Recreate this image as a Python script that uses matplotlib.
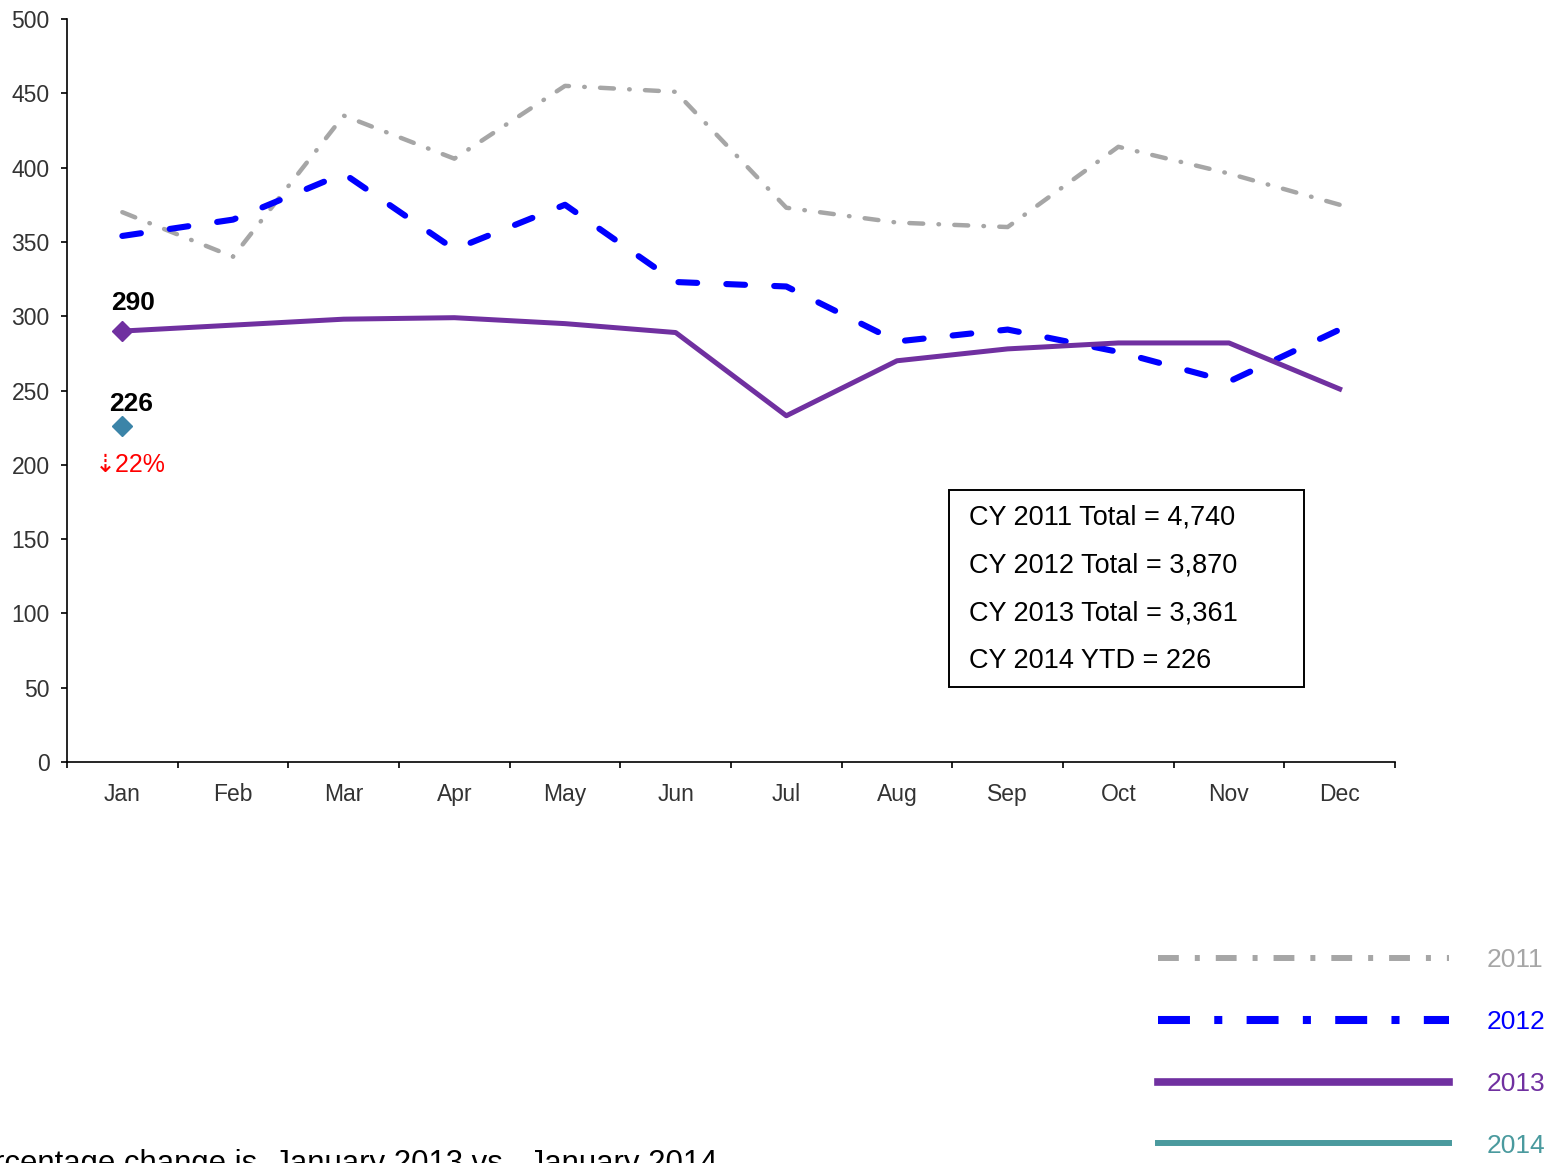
import matplotlib.pyplot as plt
from matplotlib.lines import Line2D
from matplotlib.patches import Rectangle

plt.rcParams['font.family'] = ['Liberation Sans', 'DejaVu Sans']
plt.rcParams['lines.scale_dashes'] = False

months = ['Jan', 'Feb', 'Mar', 'Apr', 'May', 'Jun', 'Jul', 'Aug', 'Sep', 'Oct', 'Nov', 'Dec']
cy2011 = [370, 340, 435, 406, 455, 451, 373, 363, 360, 414, 396, 375]
cy2012 = [354, 365, 396, 345, 375, 323, 320, 283, 291, 276, 256, 291]
cy2013 = [290, 294, 298, 299, 295, 289, 233, 270, 278, 282, 282, 251]
cy2014 = [226]
totals = ['CY 2011 Total = 4,740', 'CY 2012 Total = 3,870',
          'CY 2013 Total = 3,361', 'CY 2014 YTD = 226']
pct_change = '22%'

W, H = 1557, 1163
fig = plt.figure(figsize=(W / 100, H / 100), dpi=100)
ax = fig.add_axes([67 / W, (H - 762) / H, 1328 / W, 743 / H])

x = list(range(len(months)))
ax.plot(x, cy2011, color='#a6a6a6', lw=3.2, dashes=(10, 11, 0.4, 11), dash_capstyle='round')
ax.plot(x, cy2012, color='#0000ff', lw=4.4, dashes=(13.5, 21), dash_capstyle='round')
ax.plot(x, cy2013, color='#7030a0', lw=3.6)
ax.plot([0], cy2013[:1], marker='D', ms=10, color='#7030a0', ls='none')
ax.plot([0], cy2014, marker='D', ms=10, color='#3b84a8', ls='none')

ax.text(0.1, 309, str(cy2013[0]), ha='center', va='center', fontsize=19, fontweight='bold')
ax.text(0.08, 241, str(cy2014[0]), ha='center', va='center', fontsize=19, fontweight='bold')
ax.text(0.07, 200, '\u21e3' + pct_change, ha='center', va='center', fontsize=18, color='red')

# totals box
ax.add_patch(Rectangle((0.664, 0.101), 0.2675, 0.265, transform=ax.transAxes,
                       fill=False, ec='black', lw=1.4, clip_on=False))
for i, t in enumerate(totals):
    ax.text(0.679, 0.3297 - i * 0.0646, t, transform=ax.transAxes,
            ha='left', va='center', fontsize=19.5)

ax.set_xlim(-0.5, 11.5)
ax.set_ylim(0, 500)
ax.set_yticks(range(0, 501, 50))
ax.set_xticks([i - 0.5 for i in range(13)])
ax.set_xticklabels([])
ax.set_xticks(x, minor=True)
ax.set_xticklabels(months, minor=True)
ax.tick_params(axis='x', which='major', length=4.5, width=1.2, direction='out')
ax.tick_params(axis='x', which='minor', length=0, pad=15, labelsize=16.5, labelcolor='#333333')
ax.tick_params(axis='y', length=4.5, width=1.2, pad=8, labelsize=16.5, labelcolor='#333333')
for s in ['top', 'right']:
    ax.spines[s].set_visible(False)
for s in ['left', 'bottom']:
    ax.spines[s].set_linewidth(1.2)

handles = [
    Line2D([], [], color='#a6a6a6', lw=4.3, dashes=(15, 11.5, 3.6, 11.5)),
    Line2D([], [], color='#0000ff', lw=5.8, dashes=(23, 17.5, 5.8, 17.5)),
    Line2D([], [], color='#7030a0', lw=5.5),
    Line2D([], [], color='#4a9a9e', lw=4.3),
]
leg = fig.legend(handles, ['2011', '2012', '2013', '2014'], loc='lower right',
                 bbox_to_anchor=(1.008, -0.0157), frameon=False, fontsize=19,
                 handlelength=11, handletextpad=1.45, labelspacing=1.43)
for t, c in zip(leg.get_texts(), ['#a6a6a6', '#0000ff', '#7030a0', '#4a9a9e']):
    t.set_color(c)

fig.text(-44 / W, (H - 1149) / H, 'Percentage change is  January 2013 vs.  January 2014',
         ha='left', va='top', fontsize=22.4)

fig.savefig('out.png', dpi=100)
